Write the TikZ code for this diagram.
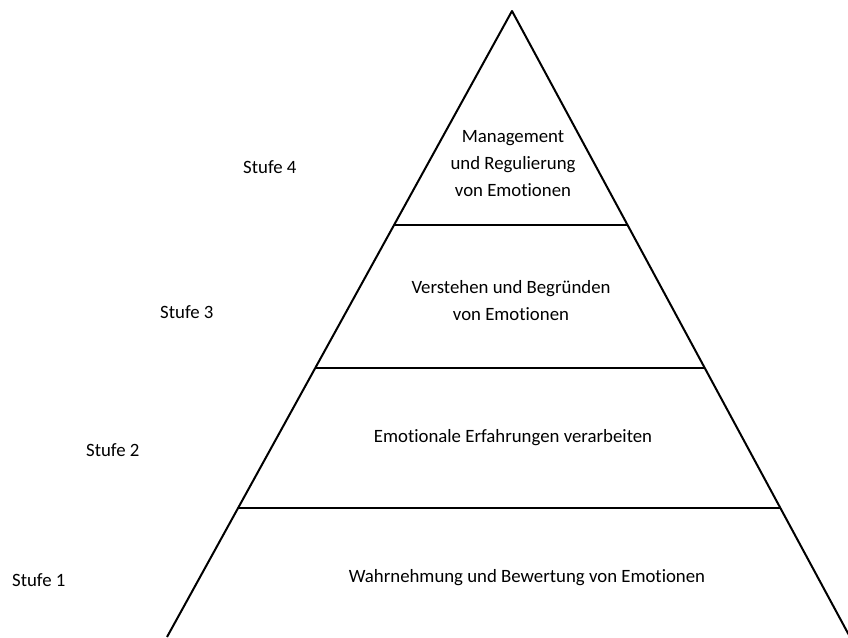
\documentclass[tikz,border=0pt]{standalone}
\usepackage{fontspec}
\setmainfont[Ligatures=NoCommon]{Carlito}
\usepackage{tikz}
\usetikzlibrary{calc,positioning}
\tikzset{
  level/.style={align=center,inner sep=0pt,font=\fontsize{18.8}{27}\selectfont},
  stufe/.style={anchor=west,inner sep=0pt,font=\fontsize{18.8}{27}\selectfont},
  edge/.style={line width=2pt,line join=round}
}
\begin{document}
\begin{tikzpicture}[x=1pt,y=-1pt]
\useasboundingbox (0,0) rectangle (848,637);
\coordinate (apex) at (512,11); \coordinate (bl) at (167,637); \coordinate (br) at (850,637);
\draw[edge] (bl)--(apex)--(br);
\foreach \t/\n in {.3419/a,.5703/b,.7939/c}{\draw[edge] ($(apex)!\t!(bl)$) coordinate (l\n)--($(apex)!\t!(br)$) coordinate (r\n);}
\node[level] (lev4) at (513,164){Management\\und Regulierung\\von Emotionen};
\node[level] (lev3) at (511,301){Verstehen und Begründen\\von Emotionen};
\node[level] (lev2) at (513,438){Emotionale Erfahrungen verarbeiten};
\node[level] (lev1) at (527,578){Wahrnehmung und Bewertung von Emotionen};
\node[stufe] (s4) at (243,167){Stufe 4};
\node[stufe] (s3) at (160,312){Stufe 3};
\node[stufe] (s2) at (86,450){Stufe 2};
\node[stufe] (s1) at (12,580){Stufe 1};
\end{tikzpicture}
\end{document}
